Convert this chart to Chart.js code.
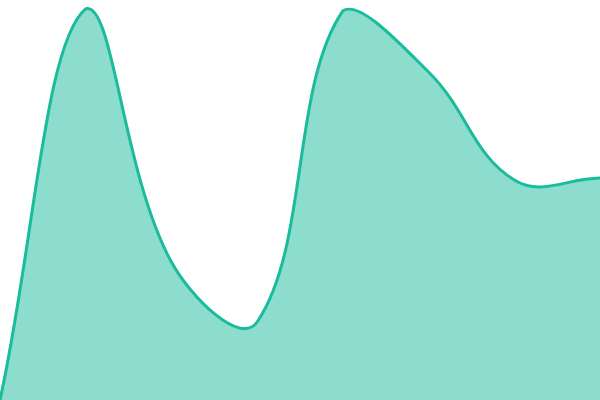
<!DOCTYPE html>
<html>
<head>
<meta charset="utf-8">
<script src="https://cdn.jsdelivr.net/npm/chart.js@4"></script>
<style>
html,body{margin:0;padding:0;background:#fff;}
#wrap{width:600px;height:400px;}
</style>
</head>
<body>
<div id="wrap"><canvas id="c" width="600" height="400"></canvas></div>
<script>
const categories = ["1", "2", "3", "4", "5", "6", "7", "8"];
const values = [0, 97.8, 34.5, 19.5, 97.3, 82, 55, 55.5];

new Chart(document.getElementById('c'), {
  type: 'line',
  data: {
    labels: categories,
    datasets: [{
      data: values,
      borderColor: '#1abc9c',
      backgroundColor: 'rgba(26,188,156,0.5)',
      borderWidth: 3,
      fill: 'origin',
      tension: 0.4,
      pointRadius: 0
    }]
  },
  options: {
    responsive: false,
    animation: false,
    layout: { padding: 0 },
    plugins: { legend: { display: false }, tooltip: { enabled: false } },
    scales: {
      x: { display: false },
      y: { display: false, min: 0, max: 100 }
    }
  }
});
</script>
</body>
</html>
